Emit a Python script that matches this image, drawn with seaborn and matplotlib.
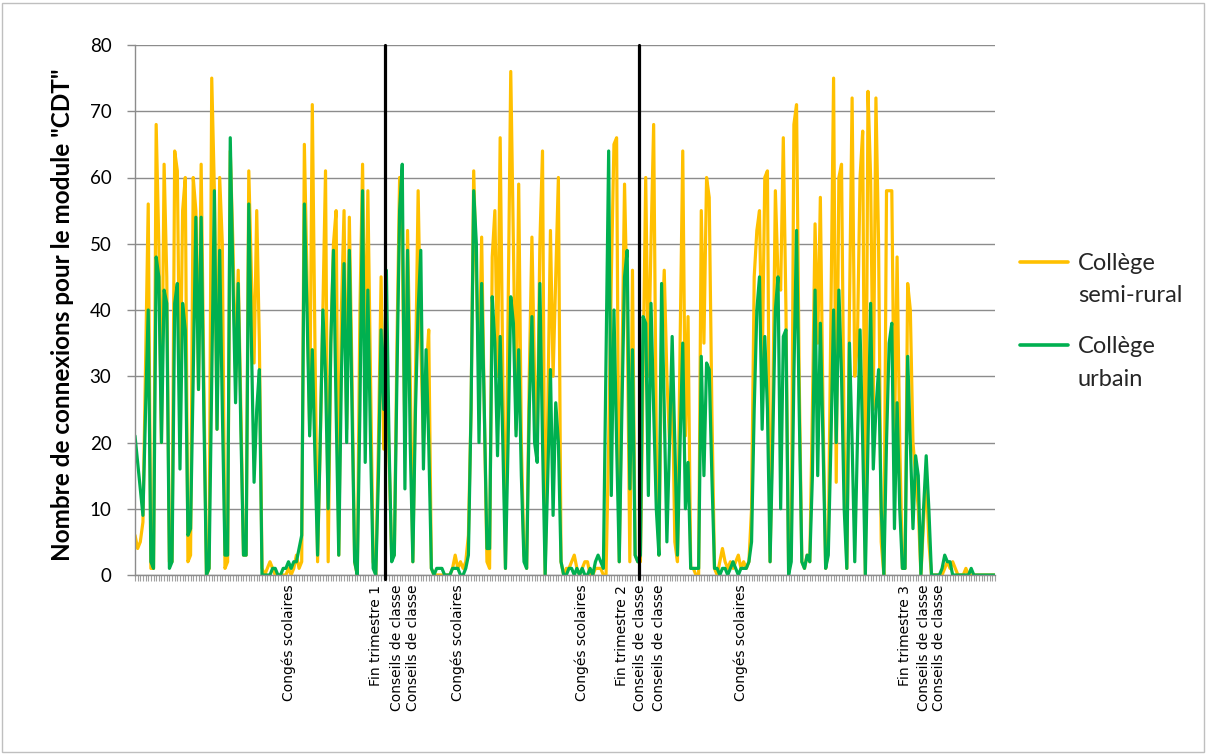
import numpy as np
import pandas as pd
import matplotlib
matplotlib.use("Agg")
import matplotlib.pyplot as plt
from matplotlib.patches import Rectangle
import seaborn as sns

sns.set_theme(style="white")
plt.rcParams["font.family"] = ["Lato", "DejaVu Sans"]

# ---------------- data (one value per day) ----------------
urbain = [
    21, 17, 13, 9, 25, 40, 2,
    1, 48, 45, 20, 43, 41, 1,
    2, 41, 44, 16, 41, 37, 6,
    7, 30, 54, 28, 54, 25, 0,
    1, 30, 58, 22, 49, 25, 3,
    3, 66, 45, 26, 44, 22, 3,
    3, 56, 35, 14, 25, 31, 0,
    0, 0, 0, 1, 1, 0, 0,
    1, 1, 2, 1, 2, 2, 4,
    6, 56, 40, 21, 34, 18, 3,
    20, 40, 30, 10, 35, 49, 25,
    3, 30, 47, 20, 49, 25, 2,
    0, 25, 58, 17, 43, 20, 1,
    0, 15, 37, 25, 46, 20, 2,
    3, 30, 55, 62, 13, 49, 20,
    2, 25, 40, 49, 16, 34, 20,
    1, 0, 1, 1, 1, 0, 0,
    0, 1, 1, 1, 0, 0, 1,
    3, 25, 58, 50, 20, 44, 25,
    4, 4, 42, 35, 18, 36, 20,
    1, 20, 42, 38, 21, 34, 15,
    2, 1, 25, 39, 20, 17, 44,
    20, 0, 15, 31, 9, 26, 20,
    2, 0, 0, 1, 1, 0, 1,
    0, 1, 0, 0, 1, 0, 2,
    3, 2, 1, 32, 64, 12, 40,
    20, 2, 25, 45, 49, 13, 34,
    3, 2, 3, 39, 38, 12, 41,
    25, 10, 3, 44, 25, 5, 20,
    36, 20, 3, 20, 35, 10, 17,
    1, 1, 1, 1, 33, 15, 32,
    31, 15, 1, 1, 0, 1, 1,
    0, 1, 2, 1, 0, 1, 1,
    1, 2, 5, 25, 40, 45, 22,
    36, 25, 2, 20, 40, 45, 10,
    36, 37, 0, 2, 30, 52, 25,
    2, 1, 3, 2, 15, 43, 15,
    38, 20, 1, 3, 20, 40, 20,
    43, 30, 10, 1, 35, 20, 2,
    20, 37, 20, 0, 20, 41, 16,
    25, 31, 10, 0, 20, 35, 38,
    7, 26, 10, 1, 1, 33, 20,
    7, 18, 15, 0, 10, 18, 10,
    0, 0, 0, 0, 1, 3, 2,
    2, 0, 0, 0, 0, 0, 0,
    0, 1, 0, 0, 0, 0, 0,
    0, 0, 0, 0,
]

semi_rural = [
    6, 4, 5, 8, 32, 56, 1,
    1, 68, 50, 20, 62, 45, 2,
    2, 64, 61, 24, 55, 60, 2,
    3, 60, 55, 28, 62, 30, 0,
    1, 75, 58, 22, 60, 50, 1,
    2, 64, 50, 30, 46, 25, 3,
    3, 61, 45, 32, 55, 35, 1,
    0, 1, 2, 1, 0, 0, 0,
    0, 0, 1, 0, 1, 3, 1,
    2, 65, 45, 22, 71, 35, 2,
    20, 40, 61, 2, 35, 50, 55,
    3, 40, 55, 22, 54, 30, 2,
    0, 40, 62, 30, 58, 30, 2,
    0, 20, 45, 19, 35, 18, 3,
    3, 35, 60, 50, 20, 52, 30,
    2, 30, 58, 35, 20, 30, 37,
    1, 0, 0, 0, 0, 0, 0,
    0, 1, 3, 1, 2, 1, 2,
    6, 25, 61, 45, 30, 51, 25,
    2, 1, 48, 55, 30, 66, 30,
    1, 40, 76, 50, 22, 59, 20,
    3, 1, 30, 51, 30, 20, 50,
    64, 0, 25, 52, 30, 45, 60,
    2, 0, 1, 1, 2, 3, 1,
    0, 1, 2, 2, 0, 0, 1,
    1, 1, 0, 0, 20, 45, 65,
    66, 2, 30, 59, 40, 2, 46,
    3, 2, 2, 30, 60, 30, 50,
    68, 20, 3, 35, 46, 30, 20,
    30, 5, 2, 35, 64, 21, 39,
    1, 1, 0, 0, 55, 35, 60,
    57, 25, 1, 0, 2, 4, 2,
    1, 2, 1, 2, 3, 1, 2,
    1, 2, 10, 45, 52, 55, 30,
    60, 61, 2, 25, 58, 45, 43,
    66, 40, 1, 3, 68, 71, 30,
    2, 1, 3, 2, 25, 53, 35,
    57, 25, 1, 4, 40, 75, 14,
    60, 62, 20, 1, 40, 72, 30,
    35, 60, 67, 0, 73, 60, 25,
    72, 50, 5, 0, 58, 58, 58,
    20, 48, 20, 1, 1, 44, 40,
    20, 15, 10, 0, 8, 15, 5,
    0, 0, 0, 0, 0, 1, 2,
    1, 2, 1, 0, 0, 0, 1,
    0, 0, 0, 0, 0, 0, 0,
    0, 0, 0, 0,
]

series_names = ["Collège\nsemi-rural", "Collège\nurbain"]
series_colors = ["#FFC000", "#00B050"]

label_days = [58, 91, 99, 105, 122, 169, 184, 191, 198, 229, 291, 298, 304]
label_texts = [
    "Congés scolaires", "Fin trimestre 1", "Conseils de classe", "Conseils de classe",
    "Congés scolaires", "Congés scolaires", "Fin trimestre 2", "Conseils de classe",
    "Conseils de classe", "Congés scolaires", "Fin trimestre 3", "Conseils de classe",
    "Conseils de classe",
]
trimestre_lines = [94.5, 190.5]
y_ticks = [0, 10, 20, 30, 40, 50, 60, 70, 80]

n = len(urbain)
days = list(range(n))
df = pd.DataFrame({
    "jour": days + days,
    "connexions": semi_rural + urbain,
    "college": [series_names[0]] * n + [series_names[1]] * n,
})

# ---------------- figure ----------------
W, H = 1208, 754
fig = plt.figure(figsize=(W / 100, H / 100), dpi=100)
ax = fig.add_axes([135 / W, 1 - 575 / H, 860 / W, 530 / H])

sns.lineplot(data=df, x="jour", y="connexions", hue="college",
             hue_order=series_names, palette=series_colors,
             estimator=None, linewidth=2.3, ax=ax)

ax.set_xlim(0, n - 1)
ax.set_ylim(0, 80)
ax.set_yticks(y_ticks)
ax.set_yticklabels([str(v) for v in y_ticks])
ax.yaxis.grid(True, color="#8C8C8C", linewidth=1.0)
ax.xaxis.grid(False)
ax.set_axisbelow(True)

xt_labels = [""] * n
for d, t in zip(label_days, label_texts):
    xt_labels[d] = t
ax.set_xticks(days)
ax.set_xticklabels(xt_labels, rotation=90, fontsize=10, fontfamily="DejaVu Sans", color="black")
ax.tick_params(axis="x", which="major", bottom=True, length=4, width=0.8,
               color="#A0A0A0", pad=3)
ax.tick_params(axis="y", which="major", left=True, length=6, width=1.0,
               color="#8C8C8C", pad=11, labelsize=13.5, labelcolor="black")

for s in ["top", "right"]:
    ax.spines[s].set_visible(False)
for s in ["left", "bottom"]:
    ax.spines[s].set_color("#8C8C8C")
    ax.spines[s].set_linewidth(1.0)

for xv in trimestre_lines:
    ax.axvline(xv, ymin=-0.008, ymax=1.0, color="black", linewidth=2.3,
               clip_on=False, zorder=5)

ax.set_xlabel("")
ax.set_ylabel('Nombre de connexions pour le module "CDT"', fontsize=17.5,
              fontweight="bold", color="black")
ax.yaxis.set_label_coords((74 - 135) / 860, 0.5 - 5 / 530)

# legend
handles, labels = ax.get_legend_handles_labels()
if ax.get_legend() is not None:
    ax.get_legend().remove()
leg = fig.legend(handles, labels, loc="upper left",
                 bbox_to_anchor=(1020 / W, 1 - 253 / H),
                 frameon=False, fontsize=17, handlelength=2.05,
                 handletextpad=0.4, labelspacing=1.26,
                 borderpad=0, borderaxespad=0)
for t in leg.get_texts():
    t.set_linespacing(1.67)
for ln in leg.get_lines():
    ln.set_linewidth(2.6)
    yd = np.asarray(ln.get_ydata(), dtype=float)
    ln.set_ydata(yd + 13.0)

fig.patches.append(Rectangle((0.002, 0.003), 0.995, 0.993, transform=fig.transFigure,
                             fill=False, edgecolor="#BFBFBF", linewidth=1.0))

fig.savefig("out.png", dpi=100)
